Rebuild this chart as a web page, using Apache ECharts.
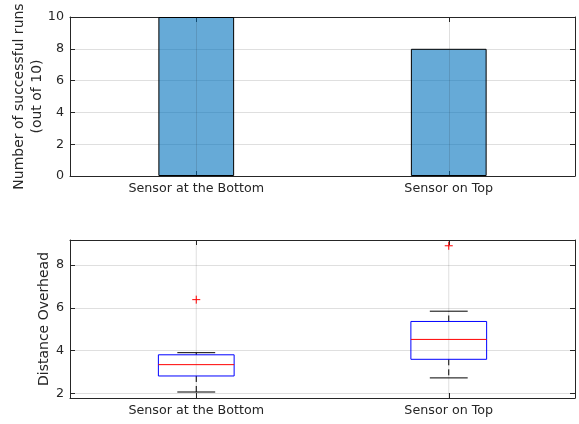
<!DOCTYPE html>
<html>
<head>
<meta charset="utf-8">
<script src="https://cdn.jsdelivr.net/npm/echarts@6/dist/echarts.min.js"></script>
<style>
html,body{margin:0;padding:0;background:#fff;}
#chart{width:579px;height:424px;}
</style>
</head>
<body>
<div id="chart"></div>
<script>
// ---- data ----
const categories = ['Sensor at the Bottom', 'Sensor on Top'];
const successfulRuns = [10, 8];
const whiskerLow = [2.06, 2.72];
const quartile1 = [2.81, 3.59];
const medians = [3.34, 4.52];
const quartile3 = [3.80, 5.36];
const whiskerHigh = [3.90, 5.84];
const outliers = [[6.38], [8.90]];
const runsRange = [0, 10];
const overheadRange = [1.78, 9.17];

// ---- styling ----
const FONT = 'DejaVu Sans';
const TXT = '#262626';
const AX = '#262626';
const GRIDC = 'rgba(38,38,38,0.15)';

const chart = echarts.init(document.getElementById('chart'), null, {renderer: 'canvas'});

const boxData = categories.map((c, i) => [i, whiskerLow[i], quartile1[i], medians[i], quartile3[i], whiskerHigh[i]]);
const outlierData = [];
outliers.forEach((arr, i) => arr.forEach(v => outlierData.push([i, v])));

function renderBox(params, api) {
  const i = api.value(0);
  const band = api.size([1, 0])[0];
  const w = band * 0.3, cap = band * 0.15;
  const pLow = api.coord([i, api.value(1)]);
  const pQ1 = api.coord([i, api.value(2)]);
  const pMed = api.coord([i, api.value(3)]);
  const pQ3 = api.coord([i, api.value(4)]);
  const pHigh = api.coord([i, api.value(5)]);
  const cx = pMed[0];
  const cs = params.coordSys;
  return {
    type: 'group',
    children: [
      {type: 'line', shape: {x1: cx, y1: cs.y, x2: cx, y2: cs.y + cs.height}, style: {stroke: GRIDC, lineWidth: 1}},
      {type: 'line', shape: {x1: cx, y1: pQ3[1], x2: cx, y2: pHigh[1]}, style: {stroke: '#000', lineWidth: 1, lineDash: [6, 4]}},
      {type: 'line', shape: {x1: cx, y1: pQ1[1], x2: cx, y2: pLow[1]}, style: {stroke: '#000', lineWidth: 1, lineDash: [6, 4]}},
      {type: 'line', shape: {x1: cx - cap / 2, y1: pHigh[1], x2: cx + cap / 2, y2: pHigh[1]}, style: {stroke: '#000', lineWidth: 1}},
      {type: 'line', shape: {x1: cx - cap / 2, y1: pLow[1], x2: cx + cap / 2, y2: pLow[1]}, style: {stroke: '#000', lineWidth: 1}},
      {type: 'rect', shape: {x: cx - w / 2, y: pQ3[1], width: w, height: pQ1[1] - pQ3[1]}, style: {stroke: '#0000ff', fill: null, lineWidth: 1}},
      {type: 'line', shape: {x1: cx - w / 2, y1: pMed[1], x2: cx + w / 2, y2: pMed[1]}, style: {stroke: '#ff0000', lineWidth: 1}}
    ]
  };
}

function renderOutlier(params, api) {
  const p = api.coord([api.value(0), api.value(1)]);
  const s = 4;
  return {
    type: 'group',
    children: [
      {type: 'line', shape: {x1: p[0] - s, y1: p[1], x2: p[0] + s, y2: p[1]}, style: {stroke: '#ff0000', lineWidth: 1}},
      {type: 'line', shape: {x1: p[0], y1: p[1] - s, x2: p[0], y2: p[1] + s}, style: {stroke: '#ff0000', lineWidth: 1}}
    ]
  };
}

const labelStyle = {color: TXT, fontFamily: FONT, fontSize: 12.7};

function catAxis(gridIndex, position, showLabel) {
  return {
    type: 'category', gridIndex, position, data: categories,
    boundaryGap: true,
    axisLine: {show: true, onZero: false, lineStyle: {color: AX, width: 1}},
    axisTick: {show: true, inside: true, alignWithLabel: true, length: 5, lineStyle: {color: AX}},
    axisLabel: Object.assign({show: showLabel, margin: 6}, labelStyle),
    splitLine: {show: false}
  };
}
function valAxis(gridIndex, position, range, showLabel, extra) {
  return Object.assign({
    type: 'value', gridIndex, position, min: range[0], max: range[1],
    axisLine: {show: true, onZero: false, lineStyle: {color: AX, width: 1}},
    axisTick: {show: true, inside: true, length: 5, lineStyle: {color: AX}},
    axisLabel: Object.assign({show: showLabel, margin: 6}, labelStyle),
    splitLine: {show: showLabel, lineStyle: {color: GRIDC, width: 1}}
  }, extra || {});
}

const option = {
  backgroundColor: '#fff',
  animation: false,
  grid: [
    {left: 70, right: 4, top: 17, bottom: 248, containLabel: false, outerBoundsMode: 'none'},
    {left: 70, right: 4, top: 240, bottom: 26, containLabel: false, outerBoundsMode: 'none'}
  ],
  xAxis: [
    catAxis(0, 'bottom', true),
    catAxis(0, 'top', false),
    catAxis(1, 'bottom', true),
    catAxis(1, 'top', false)
  ],
  yAxis: [
    valAxis(0, 'left', runsRange, true, {interval: 2, name: 'Number of successful runs\n(out of 10)', nameLocation: 'middle', nameGap: 24, nameMoveOverlap: false,
      nameTextStyle: {color: TXT, fontFamily: FONT, fontSize: 14, lineHeight: 17.5}}),
    valAxis(0, 'right', runsRange, false, {interval: 2}),
    valAxis(1, 'left', overheadRange, true, {splitNumber: 3, name: 'Distance Overhead', nameLocation: 'middle', nameGap: 17, nameMoveOverlap: false,
      nameTextStyle: {color: TXT, fontFamily: FONT, fontSize: 14, lineHeight: 17},
      axisLabel: Object.assign({show: true, margin: 6, showMinLabel: false, showMaxLabel: false}, labelStyle)}),
    valAxis(1, 'right', overheadRange, false, {splitNumber: 3})
  ],
  series: [
    {
      type: 'bar', xAxisIndex: 0, yAxisIndex: 0, data: successfulRuns, barWidth: '30%',
      itemStyle: {color: 'rgba(0,114,189,0.6)', borderColor: '#000', borderWidth: 1},
      markLine: {
        silent: true, symbol: 'none', label: {show: false},
        lineStyle: {color: GRIDC, type: 'solid', width: 1},
        data: categories.map(c => ({xAxis: c}))
      }
    },
    {type: 'custom', xAxisIndex: 2, yAxisIndex: 2, renderItem: renderBox, data: boxData, encode: {x: 0, y: [1, 2, 3, 4, 5]}, silent: true},
    {type: 'custom', xAxisIndex: 2, yAxisIndex: 2, renderItem: renderOutlier, data: outlierData, encode: {x: 0, y: 1}, silent: true}
  ]
};
chart.setOption(option);
</script>
</body>
</html>
